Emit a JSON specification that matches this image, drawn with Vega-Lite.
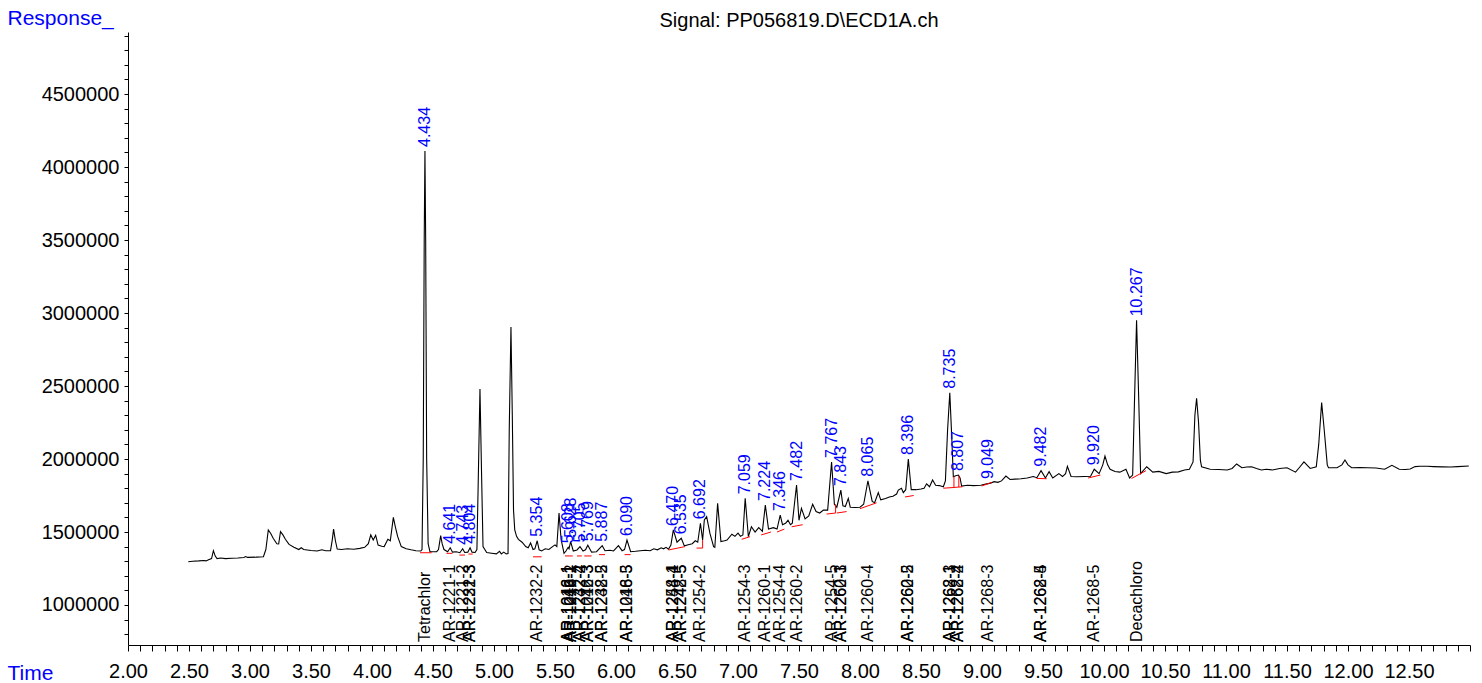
{
  "$schema": "https://vega.github.io/schema/vega-lite/v6.json",
  "width": 1342,
  "height": 613,
  "autosize": {"type": "none"},
  "padding": {"left": 128, "top": 32, "right": 12, "bottom": 38},
  "background": "white",
  "title": {"text": "Signal: PP056819.D\\ECD1A.ch", "fontSize": 20, "font": "Liberation Sans", "fontWeight": "normal", "color": "black", "anchor": "middle", "frame": "group", "baseline": "alphabetic", "offset": -40},
  "config": {"view": {"stroke": null}, "font": "Liberation Sans"},
  "datasets": {
    "trace": [
      {"t": 2.494, "v": 1296000}, {"t": 2.53, "v": 1300000}, {"t": 2.58, "v": 1302000}, {"t": 2.62, "v": 1305000}, {"t": 2.64, "v": 1302000}, {"t": 2.66, "v": 1310000}, {"t": 2.685, "v": 1318000}, {"t": 2.70, "v": 1372000}, {"t": 2.715, "v": 1335000}, {"t": 2.73, "v": 1318000}, {"t": 2.76, "v": 1322000}, {"t": 2.80, "v": 1318000}, {"t": 2.85, "v": 1320000}, {"t": 2.90, "v": 1322000}, {"t": 2.95, "v": 1325000}, {"t": 2.965, "v": 1332000}, {"t": 2.98, "v": 1326000}, {"t": 3.05, "v": 1328000}, {"t": 3.11, "v": 1331000}, {"t": 3.13, "v": 1380000}, {"t": 3.15, "v": 1514000}, {"t": 3.17, "v": 1490000}, {"t": 3.19, "v": 1457000}, {"t": 3.22, "v": 1420000}, {"t": 3.235, "v": 1418000}, {"t": 3.25, "v": 1502000}, {"t": 3.27, "v": 1480000}, {"t": 3.29, "v": 1450000}, {"t": 3.32, "v": 1415000}, {"t": 3.36, "v": 1396000}, {"t": 3.40, "v": 1380000}, {"t": 3.42, "v": 1392000}, {"t": 3.44, "v": 1380000}, {"t": 3.50, "v": 1373000}, {"t": 3.55, "v": 1370000}, {"t": 3.59, "v": 1378000}, {"t": 3.62, "v": 1372000}, {"t": 3.66, "v": 1372000}, {"t": 3.675, "v": 1450000}, {"t": 3.685, "v": 1520000}, {"t": 3.70, "v": 1440000}, {"t": 3.715, "v": 1383000}, {"t": 3.75, "v": 1380000}, {"t": 3.80, "v": 1385000}, {"t": 3.85, "v": 1382000}, {"t": 3.90, "v": 1388000}, {"t": 3.94, "v": 1395000}, {"t": 3.97, "v": 1420000}, {"t": 3.99, "v": 1480000}, {"t": 4.01, "v": 1445000}, {"t": 4.03, "v": 1478000}, {"t": 4.05, "v": 1410000}, {"t": 4.08, "v": 1402000}, {"t": 4.10, "v": 1400000}, {"t": 4.13, "v": 1450000}, {"t": 4.15, "v": 1440000}, {"t": 4.175, "v": 1600000}, {"t": 4.19, "v": 1540000}, {"t": 4.21, "v": 1470000}, {"t": 4.24, "v": 1400000}, {"t": 4.28, "v": 1385000}, {"t": 4.32, "v": 1378000}, {"t": 4.36, "v": 1372000}, {"t": 4.40, "v": 1370000},
      {"t": 4.41, "v": 1380000}, {"t": 4.42, "v": 2000000}, {"t": 4.428, "v": 3500000}, {"t": 4.434, "v": 4110000}, {"t": 4.44, "v": 3500000}, {"t": 4.448, "v": 2000000}, {"t": 4.46, "v": 1420000}, {"t": 4.475, "v": 1365000}, {"t": 4.53, "v": 1365000}, {"t": 4.545, "v": 1380000}, {"t": 4.563, "v": 1475000}, {"t": 4.575, "v": 1420000}, {"t": 4.59, "v": 1380000}, {"t": 4.62, "v": 1365000}, {"t": 4.641, "v": 1392000}, {"t": 4.66, "v": 1362000}, {"t": 4.69, "v": 1365000}, {"t": 4.72, "v": 1358000}, {"t": 4.743, "v": 1385000}, {"t": 4.76, "v": 1360000}, {"t": 4.785, "v": 1362000}, {"t": 4.804, "v": 1392000}, {"t": 4.82, "v": 1362000}, {"t": 4.845, "v": 1360000}, {"t": 4.86, "v": 1380000}, {"t": 4.872, "v": 1900000}, {"t": 4.885, "v": 2479000}, {"t": 4.898, "v": 1900000}, {"t": 4.91, "v": 1400000}, {"t": 4.94, "v": 1360000}, {"t": 4.98, "v": 1355000}, {"t": 5.02, "v": 1350000}, {"t": 5.045, "v": 1368000}, {"t": 5.06, "v": 1350000}, {"t": 5.08, "v": 1362000}, {"t": 5.10, "v": 1350000}, {"t": 5.115, "v": 1352000}, {"t": 5.125, "v": 2200000}, {"t": 5.139, "v": 2904000}, {"t": 5.15, "v": 2300000}, {"t": 5.16, "v": 1650000}, {"t": 5.17, "v": 1515000}, {"t": 5.185, "v": 1470000}, {"t": 5.20, "v": 1450000}, {"t": 5.23, "v": 1430000}, {"t": 5.26, "v": 1400000}, {"t": 5.28, "v": 1392000}, {"t": 5.30, "v": 1425000}, {"t": 5.32, "v": 1380000}, {"t": 5.335, "v": 1385000}, {"t": 5.354, "v": 1440000}, {"t": 5.37, "v": 1378000}, {"t": 5.39, "v": 1370000}, {"t": 5.42, "v": 1385000}, {"t": 5.45, "v": 1380000}, {"t": 5.48, "v": 1400000}, {"t": 5.50, "v": 1412000}, {"t": 5.515, "v": 1400000}, {"t": 5.533, "v": 1630000}, {"t": 5.55, "v": 1450000}, {"t": 5.574, "v": 1354000}, {"t": 5.59, "v": 1370000}, {"t": 5.608, "v": 1395000}, {"t": 5.615, "v": 1385000}, {"t": 5.628, "v": 1434000}, {"t": 5.65, "v": 1370000}, {"t": 5.68, "v": 1377000}, {"t": 5.705, "v": 1400000}, {"t": 5.73, "v": 1370000}, {"t": 5.75, "v": 1378000}, {"t": 5.769, "v": 1410000}, {"t": 5.80, "v": 1362000}, {"t": 5.84, "v": 1365000}, {"t": 5.887, "v": 1406000}, {"t": 5.91, "v": 1372000}, {"t": 5.95, "v": 1375000}, {"t": 5.98, "v": 1370000}, {"t": 6.02, "v": 1406000}, {"t": 6.05, "v": 1372000}, {"t": 6.07, "v": 1380000}, {"t": 6.09, "v": 1445000}, {"t": 6.12, "v": 1365000}, {"t": 6.16, "v": 1368000}, {"t": 6.20, "v": 1372000}, {"t": 6.24, "v": 1375000}, {"t": 6.28, "v": 1372000}, {"t": 6.31, "v": 1385000}, {"t": 6.34, "v": 1378000}, {"t": 6.37, "v": 1392000}, {"t": 6.39, "v": 1385000}, {"t": 6.41, "v": 1395000}, {"t": 6.43, "v": 1382000}, {"t": 6.45, "v": 1410000}, {"t": 6.47, "v": 1514000}, {"t": 6.50, "v": 1430000}, {"t": 6.535, "v": 1457000}, {"t": 6.56, "v": 1405000}, {"t": 6.60, "v": 1415000}, {"t": 6.625, "v": 1420000}, {"t": 6.65, "v": 1440000}, {"t": 6.67, "v": 1430000}, {"t": 6.692, "v": 1560000}, {"t": 6.71, "v": 1445000}, {"t": 6.724, "v": 1582000}, {"t": 6.743, "v": 1605000}, {"t": 6.77, "v": 1490000}, {"t": 6.80, "v": 1400000}, {"t": 6.81, "v": 1395000}, {"t": 6.833, "v": 1697000}, {"t": 6.86, "v": 1435000}, {"t": 6.89, "v": 1440000}, {"t": 6.91, "v": 1445000}, {"t": 6.95, "v": 1485000}, {"t": 6.975, "v": 1470000}, {"t": 7.00, "v": 1492000}, {"t": 7.02, "v": 1470000}, {"t": 7.04, "v": 1480000}, {"t": 7.059, "v": 1731000}, {"t": 7.085, "v": 1468000}, {"t": 7.11, "v": 1536000}, {"t": 7.14, "v": 1500000}, {"t": 7.17, "v": 1530000}, {"t": 7.20, "v": 1505000}, {"t": 7.224, "v": 1685000}, {"t": 7.25, "v": 1520000}, {"t": 7.29, "v": 1530000}, {"t": 7.32, "v": 1520000}, {"t": 7.346, "v": 1616000}, {"t": 7.365, "v": 1550000}, {"t": 7.39, "v": 1560000}, {"t": 7.41, "v": 1580000}, {"t": 7.43, "v": 1550000}, {"t": 7.445, "v": 1560000}, {"t": 7.48, "v": 1822000}, {"t": 7.50, "v": 1580000}, {"t": 7.52, "v": 1662000}, {"t": 7.55, "v": 1590000}, {"t": 7.58, "v": 1610000}, {"t": 7.612, "v": 1690000}, {"t": 7.64, "v": 1640000}, {"t": 7.67, "v": 1630000}, {"t": 7.70, "v": 1650000}, {"t": 7.735, "v": 1650000}, {"t": 7.767, "v": 1980000}, {"t": 7.79, "v": 1690000}, {"t": 7.81, "v": 1670000}, {"t": 7.843, "v": 1787000}, {"t": 7.86, "v": 1680000}, {"t": 7.88, "v": 1675000}, {"t": 7.904, "v": 1730000}, {"t": 7.92, "v": 1670000}, {"t": 7.96, "v": 1668000}, {"t": 8.00, "v": 1670000}, {"t": 8.03, "v": 1690000}, {"t": 8.065, "v": 1851000}, {"t": 8.10, "v": 1710000}, {"t": 8.12, "v": 1700000}, {"t": 8.15, "v": 1770000}, {"t": 8.17, "v": 1720000}, {"t": 8.21, "v": 1730000}, {"t": 8.24, "v": 1740000}, {"t": 8.27, "v": 1745000}, {"t": 8.30, "v": 1760000}, {"t": 8.314, "v": 1787000}, {"t": 8.34, "v": 1800000}, {"t": 8.355, "v": 1770000}, {"t": 8.375, "v": 1790000}, {"t": 8.396, "v": 2000000}, {"t": 8.42, "v": 1790000}, {"t": 8.46, "v": 1790000}, {"t": 8.50, "v": 1795000}, {"t": 8.525, "v": 1800000}, {"t": 8.546, "v": 1830000}, {"t": 8.57, "v": 1810000}, {"t": 8.595, "v": 1856000}, {"t": 8.62, "v": 1820000}, {"t": 8.65, "v": 1818000}, {"t": 8.683, "v": 1810000}, {"t": 8.70, "v": 1850000}, {"t": 8.718, "v": 2200000}, {"t": 8.736, "v": 2454000}, {"t": 8.752, "v": 2150000}, {"t": 8.765, "v": 1879000}, {"t": 8.785, "v": 1885000}, {"t": 8.807, "v": 1890000}, {"t": 8.82, "v": 1870000}, {"t": 8.833, "v": 1815000}, {"t": 8.88, "v": 1820000}, {"t": 8.93, "v": 1818000}, {"t": 8.99, "v": 1820000}, {"t": 9.03, "v": 1828000}, {"t": 9.07, "v": 1835000}, {"t": 9.10, "v": 1845000}, {"t": 9.13, "v": 1840000}, {"t": 9.16, "v": 1850000}, {"t": 9.196, "v": 1883000}, {"t": 9.23, "v": 1860000}, {"t": 9.27, "v": 1862000}, {"t": 9.32, "v": 1865000}, {"t": 9.37, "v": 1870000}, {"t": 9.42, "v": 1880000}, {"t": 9.45, "v": 1872000}, {"t": 9.484, "v": 1920000}, {"t": 9.52, "v": 1870000}, {"t": 9.55, "v": 1913000}, {"t": 9.58, "v": 1870000}, {"t": 9.63, "v": 1900000}, {"t": 9.66, "v": 1880000}, {"t": 9.685, "v": 1900000}, {"t": 9.70, "v": 1950000}, {"t": 9.73, "v": 1880000}, {"t": 9.78, "v": 1878000}, {"t": 9.84, "v": 1880000}, {"t": 9.89, "v": 1882000}, {"t": 9.92, "v": 1930000}, {"t": 9.96, "v": 1900000}, {"t": 9.99, "v": 1960000}, {"t": 10.008, "v": 2020000}, {"t": 10.03, "v": 1960000}, {"t": 10.05, "v": 1930000}, {"t": 10.09, "v": 1915000}, {"t": 10.13, "v": 1910000}, {"t": 10.18, "v": 1930000}, {"t": 10.21, "v": 1870000}, {"t": 10.235, "v": 1890000}, {"t": 10.25, "v": 2400000}, {"t": 10.267, "v": 2950000}, {"t": 10.285, "v": 2400000}, {"t": 10.30, "v": 1900000}, {"t": 10.35, "v": 1947000}, {"t": 10.40, "v": 1910000}, {"t": 10.45, "v": 1915000}, {"t": 10.51, "v": 1900000}, {"t": 10.56, "v": 1910000}, {"t": 10.61, "v": 1912000}, {"t": 10.66, "v": 1925000}, {"t": 10.70, "v": 1930000}, {"t": 10.73, "v": 1980000}, {"t": 10.745, "v": 2300000}, {"t": 10.759, "v": 2416000}, {"t": 10.775, "v": 2250000}, {"t": 10.79, "v": 1990000}, {"t": 10.80, "v": 1947000}, {"t": 10.87, "v": 1930000}, {"t": 10.94, "v": 1928000}, {"t": 11.01, "v": 1925000}, {"t": 11.05, "v": 1935000}, {"t": 11.087, "v": 1966000}, {"t": 11.13, "v": 1940000}, {"t": 11.17, "v": 1945000}, {"t": 11.21, "v": 1947000}, {"t": 11.25, "v": 1935000}, {"t": 11.29, "v": 1925000}, {"t": 11.33, "v": 1930000}, {"t": 11.38, "v": 1925000}, {"t": 11.44, "v": 1935000}, {"t": 11.50, "v": 1940000}, {"t": 11.57, "v": 1910000}, {"t": 11.60, "v": 1940000}, {"t": 11.639, "v": 1980000}, {"t": 11.69, "v": 1935000}, {"t": 11.74, "v": 1947000}, {"t": 11.76, "v": 2100000}, {"t": 11.784, "v": 2386000}, {"t": 11.805, "v": 2200000}, {"t": 11.83, "v": 1960000}, {"t": 11.84, "v": 1940000}, {"t": 11.91, "v": 1940000}, {"t": 11.95, "v": 1960000}, {"t": 11.975, "v": 1993000}, {"t": 12.00, "v": 1960000}, {"t": 12.03, "v": 1940000}, {"t": 12.10, "v": 1942000}, {"t": 12.16, "v": 1940000}, {"t": 12.23, "v": 1938000}, {"t": 12.30, "v": 1930000}, {"t": 12.36, "v": 1957000}, {"t": 12.42, "v": 1930000}, {"t": 12.47, "v": 1928000}, {"t": 12.51, "v": 1932000}, {"t": 12.55, "v": 1948000}, {"t": 12.59, "v": 1950000}, {"t": 12.65, "v": 1950000}, {"t": 12.70, "v": 1948000}, {"t": 12.77, "v": 1946000}, {"t": 12.84, "v": 1945000}, {"t": 12.90, "v": 1948000}, {"t": 12.99, "v": 1952000}
    ],
    "peaks": [
      {"rt": 4.434, "v": 4110000}, {"rt": 4.641, "v": 1392000}, {"rt": 4.743, "v": 1385000}, {"rt": 4.804, "v": 1392000}, {"rt": 5.354, "v": 1440000}, {"rt": 5.608, "v": 1395000}, {"rt": 5.628, "v": 1434000}, {"rt": 5.705, "v": 1400000}, {"rt": 5.769, "v": 1410000}, {"rt": 5.887, "v": 1406000}, {"rt": 6.090, "v": 1445000}, {"rt": 6.470, "v": 1514000}, {"rt": 6.535, "v": 1457000}, {"rt": 6.692, "v": 1560000}, {"rt": 7.059, "v": 1731000}, {"rt": 7.224, "v": 1685000}, {"rt": 7.346, "v": 1616000}, {"rt": 7.482, "v": 1822000}, {"rt": 7.767, "v": 1980000}, {"rt": 7.843, "v": 1787000}, {"rt": 8.065, "v": 1851000}, {"rt": 8.396, "v": 2000000}, {"rt": 8.735, "v": 2454000}, {"rt": 8.807, "v": 1890000}, {"rt": 9.049, "v": 1835000}, {"rt": 9.482, "v": 1920000}, {"rt": 9.920, "v": 1930000}, {"rt": 10.267, "v": 2950000}
    ],
    "names": [
      {"rt": 4.434, "name": "Tetrachlor"}, {"rt": 4.641, "name": "AR-1221-1"}, {"rt": 4.743, "name": "AR-1221-2"}, {"rt": 4.804, "name": "AR-1221-3"}, {"rt": 4.804, "name": "AR-1232-3"}, {"rt": 5.354, "name": "AR-1232-2"}, {"rt": 5.608, "name": "AR-1016-1"}, {"rt": 5.608, "name": "AR-1242-1"}, {"rt": 5.628, "name": "AR-1248-1"}, {"rt": 5.628, "name": "AR-1016-2"}, {"rt": 5.705, "name": "AR-1232-4"}, {"rt": 5.705, "name": "AR-1242-2"}, {"rt": 5.769, "name": "AR-1016-3"}, {"rt": 5.769, "name": "AR-1242-3"}, {"rt": 5.887, "name": "AR-1232-5"}, {"rt": 5.887, "name": "AR-1248-2"}, {"rt": 6.090, "name": "AR-1016-5"}, {"rt": 6.090, "name": "AR-1248-3"}, {"rt": 6.470, "name": "AR-1248-4"}, {"rt": 6.470, "name": "AR-1254-1"}, {"rt": 6.535, "name": "AR-1242-5"}, {"rt": 6.535, "name": "AR-1248-5"}, {"rt": 6.692, "name": "AR-1254-2"}, {"rt": 7.059, "name": "AR-1254-3"}, {"rt": 7.224, "name": "AR-1260-1"}, {"rt": 7.346, "name": "AR-1254-4"}, {"rt": 7.482, "name": "AR-1260-2"}, {"rt": 7.767, "name": "AR-1254-5"}, {"rt": 7.843, "name": "AR-1260-3"}, {"rt": 7.843, "name": "AR-1262-1"}, {"rt": 8.065, "name": "AR-1260-4"}, {"rt": 8.396, "name": "AR-1260-5"}, {"rt": 8.396, "name": "AR-1262-2"}, {"rt": 8.735, "name": "AR-1262-3"}, {"rt": 8.735, "name": "AR-1268-1"}, {"rt": 8.807, "name": "AR-1262-4"}, {"rt": 8.807, "name": "AR-1268-2"}, {"rt": 9.049, "name": "AR-1268-3"}, {"rt": 9.482, "name": "AR-1262-5"}, {"rt": 9.482, "name": "AR-1268-4"}, {"rt": 9.920, "name": "AR-1268-5"}, {"rt": 10.267, "name": "Decachloro"}
    ],
    "base": [
      {"t1": 4.393, "v1": 1358000, "t2": 4.489, "v2": 1358000}, {"t1": 4.61, "v1": 1354000, "t2": 4.66, "v2": 1354000}, {"t1": 4.716, "v1": 1342000, "t2": 4.762, "v2": 1342000}, {"t1": 4.79, "v1": 1349000, "t2": 4.825, "v2": 1349000}, {"t1": 5.32, "v1": 1330000, "t2": 5.39, "v2": 1330000}, {"t1": 5.582, "v1": 1336000, "t2": 5.617, "v2": 1336000}, {"t1": 5.617, "v1": 1336000, "t2": 5.645, "v2": 1336000}, {"t1": 5.68, "v1": 1336000, "t2": 5.72, "v2": 1336000}, {"t1": 5.74, "v1": 1336000, "t2": 5.80, "v2": 1336000}, {"t1": 5.86, "v1": 1345000, "t2": 5.91, "v2": 1345000}, {"t1": 6.07, "v1": 1345000, "t2": 6.12, "v2": 1345000}, {"t1": 6.43, "v1": 1377000, "t2": 6.566, "v2": 1400000}, {"t1": 6.66, "v1": 1390000, "t2": 6.71, "v2": 1390000}, {"t1": 6.71, "v1": 1390000, "t2": 6.71, "v2": 1445000}, {"t1": 7.03, "v1": 1450000, "t2": 7.098, "v2": 1468000}, {"t1": 7.19, "v1": 1480000, "t2": 7.27, "v2": 1500000}, {"t1": 7.32, "v1": 1500000, "t2": 7.38, "v2": 1520000}, {"t1": 7.44, "v1": 1536000, "t2": 7.53, "v2": 1550000}, {"t1": 7.726, "v1": 1623000, "t2": 7.80, "v2": 1630000}, {"t1": 7.80, "v1": 1630000, "t2": 7.80, "v2": 1690000}, {"t1": 7.81, "v1": 1630000, "t2": 7.89, "v2": 1640000}, {"t1": 8.0, "v1": 1660000, "t2": 8.136, "v2": 1700000}, {"t1": 8.369, "v1": 1740000, "t2": 8.44, "v2": 1750000}, {"t1": 8.683, "v1": 1800000, "t2": 8.77, "v2": 1805000}, {"t1": 8.77, "v1": 1805000, "t2": 8.77, "v2": 1880000}, {"t1": 8.77, "v1": 1805000, "t2": 8.84, "v2": 1810000}, {"t1": 8.81, "v1": 1808000, "t2": 8.81, "v2": 1885000}, {"t1": 8.997, "v1": 1815000, "t2": 9.08, "v2": 1840000}, {"t1": 9.447, "v1": 1867000, "t2": 9.53, "v2": 1865000}, {"t1": 9.87, "v1": 1870000, "t2": 9.97, "v2": 1890000}, {"t1": 10.226, "v1": 1867000, "t2": 10.344, "v2": 1920000}
    ]
  },
  "layer": [
    {
      "data": {"name": "trace"},
      "mark": {"type": "line", "color": "black", "strokeWidth": 1.1},
      "encoding": {
        "x": {"field": "t", "type": "quantitative", "scale": {"domain": [2, 13], "nice": false, "zero": false},
          "axis": {"values": [2,2.1,2.2,2.3,2.4,2.5,2.6,2.7,2.8,2.9,3,3.1,3.2,3.3,3.4,3.5,3.6,3.7,3.8,3.9,4,4.1,4.2,4.3,4.4,4.5,4.6,4.7,4.8,4.9,5,5.1,5.2,5.3,5.4,5.5,5.6,5.7,5.8,5.9,6,6.1,6.2,6.3,6.4,6.5,6.6,6.7,6.8,6.9,7,7.1,7.2,7.3,7.4,7.5,7.6,7.7,7.8,7.9,8,8.1,8.2,8.3,8.4,8.5,8.6,8.7,8.8,8.9,9,9.1,9.2,9.3,9.4,9.5,9.6,9.7,9.8,9.9,10,10.1,10.2,10.3,10.4,10.5,10.6,10.7,10.8,10.9,11,11.1,11.2,11.3,11.4,11.5,11.6,11.7,11.8,11.9,12,12.1,12.2,12.3,12.4,12.5,12.6,12.7,12.8,12.9,13],
            "tickCount": 500,
            "labelExpr": "abs(datum.value*2 - round(datum.value*2)) < 0.001 && datum.value < 12.9 ? format(datum.value, '.2f') : ''",
            "grid": false, "tickSize": 6, "tickColor": "black", "domainColor": "black", "labelPadding": 10, "labelFontSize": 20, "labelColor": "black", "labelFont": "Liberation Sans", "labelBaseline": "top", "labelFlush": false, "labelOverlap": false,
            "title": "Time", "titleFontSize": 21, "titleFont": "Liberation Sans", "titleFontWeight": "normal", "titleColor": "#0000ff", "titleX": -121, "titleY": 34, "titleAlign": "left", "titleBaseline": "alphabetic", "titleAngle": 0}},
        "y": {"field": "v", "type": "quantitative", "scale": {"domain": [726000, 4925000], "nice": false, "zero": false},
          "axis": {"values": [800000,900000,1000000,1100000,1200000,1300000,1400000,1500000,1600000,1700000,1800000,1900000,2000000,2100000,2200000,2300000,2400000,2500000,2600000,2700000,2800000,2900000,3000000,3100000,3200000,3300000,3400000,3500000,3600000,3700000,3800000,3900000,4000000,4100000,4200000,4300000,4400000,4500000,4600000,4700000,4800000,4900000],
            "tickCount": 500,
            "labelExpr": "datum.value % 500000 == 0 ? format(datum.value, 'd') : ''",
            "grid": false, "tickSize": 4, "tickColor": "black", "domainColor": "black", "labelPadding": 5, "labelFontSize": 20, "labelColor": "black", "labelFont": "Liberation Sans", "labelFlush": false, "labelOverlap": false,
            "title": "Response_", "titleFontSize": 21, "titleFont": "Liberation Sans", "titleFontWeight": "normal", "titleColor": "#0000ff", "titleAngle": 0, "titleX": -121, "titleY": -8, "titleAlign": "left", "titleBaseline": "alphabetic"}}
      }
    },
    {
      "data": {"name": "base"},
      "mark": {"type": "rule", "color": "#ff0000", "strokeWidth": 1},
      "encoding": {
        "x": {"field": "t1", "type": "quantitative", "scale": {"domain": [2, 13], "nice": false, "zero": false}},
        "x2": {"field": "t2"},
        "y": {"field": "v1", "type": "quantitative", "scale": {"domain": [726000, 4925000], "nice": false, "zero": false}},
        "y2": {"field": "v2"}
      }
    },
    {
      "data": {"name": "peaks"},
      "mark": {"type": "text", "angle": 270, "align": "left", "baseline": "middle", "dx": 4, "fontSize": 16, "font": "Liberation Sans", "color": "#0000ff"},
      "encoding": {
        "x": {"field": "rt", "type": "quantitative", "scale": {"domain": [2, 13], "nice": false, "zero": false}},
        "y": {"field": "v", "type": "quantitative", "scale": {"domain": [726000, 4925000], "nice": false, "zero": false}},
        "text": {"field": "rt", "type": "quantitative", "format": ".3f"}
      }
    },
    {
      "data": {"name": "names"},
      "mark": {"type": "text", "angle": 270, "align": "left", "baseline": "middle", "dx": 3, "fontSize": 16, "font": "Liberation Sans", "color": "black"},
      "encoding": {
        "x": {"field": "rt", "type": "quantitative", "scale": {"domain": [2, 13], "nice": false, "zero": false}},
        "y": {"datum": 726000, "type": "quantitative", "scale": {"domain": [726000, 4925000], "nice": false, "zero": false}},
        "text": {"field": "name"}
      }
    }
  ]
}
